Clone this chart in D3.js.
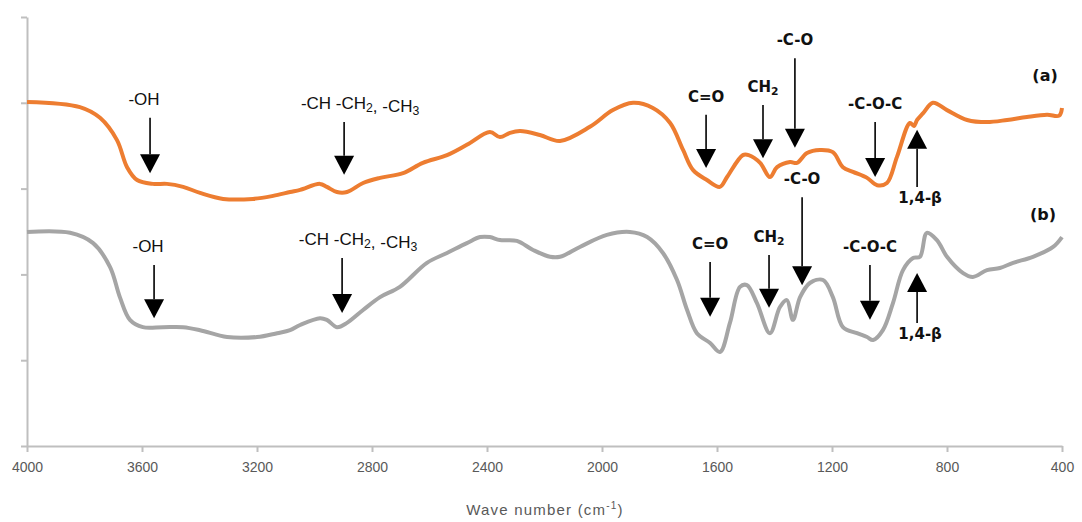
<!DOCTYPE html>
<html>
<head>
<meta charset="utf-8">
<script src="https://cdn.jsdelivr.net/npm/d3@7"></script>
<style>
  body { margin: 0; background: #fff; }
  svg { display: block; }
  .axis path, .axis line { stroke: #bfbfbf; stroke-width: 2px; }
  .axis text { fill: #595959; font-family: "Liberation Sans", Arial, sans-serif; font-size: 14px; }
  .ann { font-family: "DejaVu Sans", Verdana, sans-serif; font-size: 15px; font-weight: bold; fill: #111; }
  .ann.arial { font-family: "Liberation Sans", Arial, sans-serif; font-size: 17px; font-weight: normal; }
</style>
</head>
<body>
<svg id="chart" width="1082" height="522"></svg>
<script>
// spectrum (a) - orange, wave number / transmittance (arbitrary)
const wn_a = [4000, 3816, 3746, 3687, 3652, 3617, 3562, 3513, 3457, 3398, 3318, 3214, 3144, 3085, 3050, 2981, 2957, 2922, 2887, 2831, 2772, 2692, 2623, 2539, 2470, 2390, 2355, 2320, 2285, 2216, 2146, 2042, 1962, 1892, 1823, 1763, 1718, 1683, 1635, 1590, 1565, 1510, 1490, 1450, 1416, 1391, 1346, 1322, 1287, 1242, 1197, 1162, 1127, 1078, 1043, 1009, 974, 929, 915, 904, 883, 849, 800, 730, 661, 591, 522, 452, 410, 400];
const val_a = [80.2, 79.0, 76.5, 71.3, 65.0, 62.0, 61.1, 61.1, 60.4, 59.0, 57.6, 57.6, 58.3, 59.2, 59.7, 61.1, 60.4, 59.2, 59.2, 61.3, 62.5, 63.6, 66.0, 67.8, 70.2, 73.2, 72.0, 73.0, 73.4, 72.5, 71.1, 74.4, 78.3, 80.0, 78.8, 75.3, 69.0, 64.3, 62.0, 60.4, 62.7, 67.8, 67.8, 66.0, 62.7, 65.0, 66.2, 66.0, 68.3, 69.0, 68.5, 65.0, 63.9, 62.5, 60.8, 61.3, 67.4, 75.3, 74.6, 76.0, 77.6, 80.0, 78.3, 76.0, 75.5, 76.0, 76.7, 77.2, 77.0, 78.8];

// spectrum (b) - grey
const wn_b = [4000, 3850, 3770, 3711, 3677, 3642, 3597, 3527, 3457, 3398, 3304, 3200, 3130, 3085, 3050, 2981, 2957, 2922, 2887, 2831, 2772, 2703, 2609, 2539, 2470, 2424, 2390, 2355, 2296, 2240, 2181, 2146, 2077, 1983, 1903, 1843, 1788, 1739, 1704, 1670, 1624, 1590, 1555, 1520, 1496, 1461, 1416, 1381, 1357, 1336, 1311, 1277, 1231, 1197, 1162, 1113, 1078, 1057, 1023, 988, 953, 918, 894, 870, 835, 800, 744, 710, 661, 616, 570, 501, 431, 400];
const val_b = [49.9, 49.7, 47.3, 41.7, 34.7, 29.4, 27.7, 27.7, 27.7, 27.0, 25.4, 25.4, 26.3, 27.0, 28.2, 29.8, 29.4, 27.7, 28.7, 31.7, 34.7, 37.1, 42.7, 45.0, 47.3, 48.7, 48.7, 48.0, 47.8, 45.7, 44.1, 44.1, 46.4, 49.2, 49.9, 48.7, 45.0, 38.7, 31.7, 26.3, 24.0, 21.9, 28.7, 37.1, 37.5, 33.3, 26.3, 32.4, 34.0, 29.4, 34.7, 38.0, 38.7, 34.7, 27.7, 26.3, 25.4, 24.7, 27.0, 33.3, 41.0, 43.8, 44.1, 49.7, 48.0, 44.1, 40.3, 39.4, 41.0, 41.5, 42.7, 44.1, 46.4, 48.7];

const x_ticks = [4000, 3600, 3200, 2800, 2400, 2000, 1600, 1200, 800, 400];
const y_ticks = [0, 20, 40, 60, 80, 100];

// peak labels: text, wave number, arrow tail / tip (same units as values)
const peak_text = ["-OH", "-CH -CH2, -CH3", "C=O", "CH2", "-C-O", "-C-O-C", "1,4-β",
                   "-OH", "-CH -CH2, -CH3", "C=O", "CH2", "-C-O", "-C-O-C", "1,4-β"];
const peak_wn   = [3572, 2897, 1638, 1440, 1329, 1050, 904,
                   3558, 2904, 1624, 1419, 1304, 1068, 904];
const peak_from = [76.5, 75.5, 77.2, 79.5, 90.4, 75.5, 60.4,
                   42.2, 43.8, 42.9, 44.5, 58.0, 42.2, 28.7];
const peak_to   = [63.6, 63.2, 64.8, 67.1, 69.5, 62.7, 73.7,
                   29.8, 31.0, 30.1, 32.2, 37.5, 29.4, 40.3];

const series_names = ["(a)", "(b)"];
const series_wn = [459, 466];
const series_val = [85.1, 52.7];

const svg = d3.select("#chart");
const x = d3.scaleLinear().domain([4000, 400]).range([27, 1062]);
const y = d3.scaleLinear().domain([0, 100]).range([446, 17]);

// axes
svg.append("g")
    .attr("class", "axis")
    .attr("transform", "translate(0,446)")
    .call(d3.axisBottom(x).tickValues(x_ticks).tickSize(6).tickPadding(10).tickSizeOuter(0).tickFormat(d3.format("d")));

svg.append("g")
    .attr("class", "axis")
    .attr("transform", "translate(27,0)")
    .call(d3.axisLeft(y).tickValues(y_ticks).tickSize(6).tickSizeOuter(0).tickFormat(""));

svg.append("text")
    .attr("x", 545).attr("y", 515)
    .attr("text-anchor", "middle")
    .style("font-family", "Liberation Sans, Arial, sans-serif")
    .style("font-size", "15px")
    .style("letter-spacing", "1.2px")
    .style("fill", "#595959")
    .html('Wave number (cm<tspan dy="-6" font-size="10">-1</tspan><tspan dy="6">)</tspan>');

// lines
const line = d3.line()
    .x(d => x(d[0]))
    .y(d => y(d[1]))
    .curve(d3.curveCatmullRom.alpha(0.5));

svg.append("path")
    .datum(d3.zip(wn_b, val_b))
    .attr("d", line)
    .attr("fill", "none")
    .attr("stroke", "#a5a5a5")
    .attr("stroke-width", 4)
    .attr("stroke-linejoin", "round");

svg.append("path")
    .datum(d3.zip(wn_a, val_a))
    .attr("d", line)
    .attr("fill", "none")
    .attr("stroke", "#ed7d31")
    .attr("stroke-width", 4)
    .attr("stroke-linejoin", "round");

// arrows + labels
function write_label(sel, txt) {
    // subscripts for 2 and 3 after H
    let parts = txt.split(/(?<=H)([23])/);
    for (let p of parts) {
        if (p === "2" || p === "3") {
            sel.append("tspan").attr("font-size", "0.72em").attr("dy", 3).text(p);
            sel.append("tspan").attr("dy", -3).text("");
        } else {
            sel.append("tspan").text(p);
        }
    }
}

for (let i = 0; i < peak_text.length; i++) {
    let px = x(peak_wn[i]);
    let y0 = y(peak_from[i]);
    let y1 = y(peak_to[i]);
    let up = y1 < y0;
    let head = 19, hw = 10;
    let base = up ? y1 + head : y1 - head;

    svg.append("line")
        .attr("x1", px).attr("x2", px)
        .attr("y1", y0).attr("y2", base)
        .attr("stroke", "#000").attr("stroke-width", 1.6);
    svg.append("path")
        .attr("d", "M" + (px - hw) + "," + base + "L" + (px + hw) + "," + base + "L" + px + "," + y1 + "Z")
        .attr("fill", "#000");

    let arial = peak_text[i].startsWith("-OH") || peak_text[i].startsWith("-CH");
    let t = svg.append("text")
        .attr("class", arial ? "ann arial" : "ann")
        .attr("text-anchor", "middle");
    let dx = 0;
    if (peak_text[i].startsWith("-CH")) dx = 16;
    else if (peak_text[i] === "-OH") dx = -6;
    if (up) {
        t.attr("x", px + 3).attr("y", y0 + 16);
    } else {
        t.attr("x", px + dx).attr("y", y0 - 13);
    }
    write_label(t, peak_text[i]);
}

for (let i = 0; i < series_names.length; i++) {
    svg.append("text")
        .attr("class", "ann")
        .attr("x", x(series_wn[i]))
        .attr("y", y(series_val[i]))
        .attr("text-anchor", "middle")
        .style("font-size", "16px")
        .text(series_names[i]);
}
</script>
</body>
</html>
